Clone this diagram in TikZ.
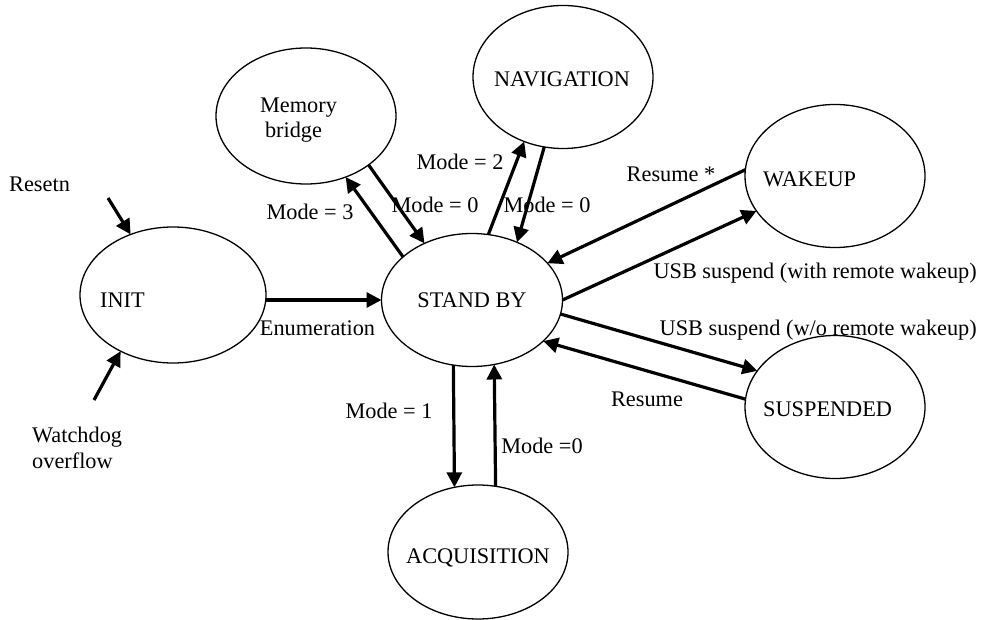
\documentclass[tikz,border=0pt]{standalone}
\usepackage{fontspec}
\setmainfont{Liberation Serif}
\usetikzlibrary{shapes.geometric,arrows.meta}
\begin{document}
\begin{tikzpicture}[x=1pt,y=-1pt,
  state/.style={ellipse,draw,line width=1.3pt,inner sep=0pt,outer sep=0pt},
  txt/.style={font=\fontsize{22.3}{25}\selectfont,inner sep=0pt,anchor=base},
  arr/.style={line width=3.2pt,-{Triangle[length=15pt,width=15pt]}}]
\useasboundingbox (0,0) rectangle (984,620);
% states
\node[state,minimum width=186pt,minimum height=136pt] (init) at (173,295) {};
\node[state,minimum width=180pt,minimum height=136pt] (mb) at (306,116) {};
\node[state,minimum width=180pt,minimum height=143pt] (nav) at (563,77) {};
\node[state,minimum width=181pt,minimum height=133pt] (sb) at (472,300) {};
\node[state,minimum width=180pt,minimum height=143pt] (wk) at (835,176) {};
\node[state,minimum width=180pt,minimum height=143pt] (susp) at (835,407) {};
\node[state,minimum width=180pt,minimum height=134pt] (acq) at (478,552) {};
% state texts
\node[txt,anchor=base west] (tinit) at (100,307) {INIT};
\node[txt] (tmem) at (298.5,113) {Memory};
\node[txt] (tbr) at (293.5,138) {bridge};
\node[txt] (tnav) at (562,87) {NAVIGATION};
\node[txt] (tsb) at (472,307) {STAND BY};
\node[txt,anchor=base west] (twk) at (763,187) {WAKEUP};
\node[txt,anchor=base west] (tsusp) at (763,416) {SUSPENDED};
\node[txt] (tacq) at (478,563) {ACQUISITION};
% free ends
\coordinate (rs) at (108,198);
\coordinate (wd) at (94,400);
% connectors
\draw[arr] (rs) -- (init.125);
\draw[arr] (wd) -- (init.227.7);
\draw[arr] (init.east |- sb.west) -- (sb.west);
\draw[arr] (sb.148.4) -- (mb.303.3);
\draw[arr] (mb.322.4) -- (sb.130.2);
\draw[arr] (sb.76.6) -- (nav.239.7);
\draw[arr] (nav.255.8) -- (sb.52.2);
\draw[arr] (wk.176.2) -- (sb.26.3);
\draw[arr] (sb.east) -- (wk.204.3);
\draw[arr] (sb.351.7) -- (susp.155.7);
\draw[arr] (susp.175.2) -- (sb.330.1);
\draw[arr] (sb.254.2) -- (acq.110.8);
\draw[arr] (acq.75.6) -- (sb.289.8);
% labels
\node[txt,anchor=base west] (tresetn) at (9,192) {Resetn};
\node[txt,anchor=base west] (twd) at (32,442) {Watchdog};
\node[txt,anchor=base west] (tof) at (32,468) {overflow};
\node[txt] (tenum) at (317.5,335) {Enumeration};
\node[txt] (tm3) at (310,220) {Mode = 3};
\node[txt] (tm0a) at (435,213) {Mode = 0};
\node[txt] (tm2) at (460,170) {Mode = 2};
\node[txt] (tm0b) at (547,213) {Mode = 0};
\node[txt] (tres1) at (671,182) {Resume *};
\node[txt,anchor=base east] (tusb1) at (977,278) {USB suspend (with remote wakeup)};
\node[txt,anchor=base east] (tusb2) at (977,335) {USB suspend (w/o remote wakeup)};
\node[txt] (tres2) at (647,406) {Resume};
\node[txt] (tm1) at (389,418) {Mode = 1};
\node[txt] (tm0c) at (542,453) {Mode =0};
\end{tikzpicture}
\end{document}
